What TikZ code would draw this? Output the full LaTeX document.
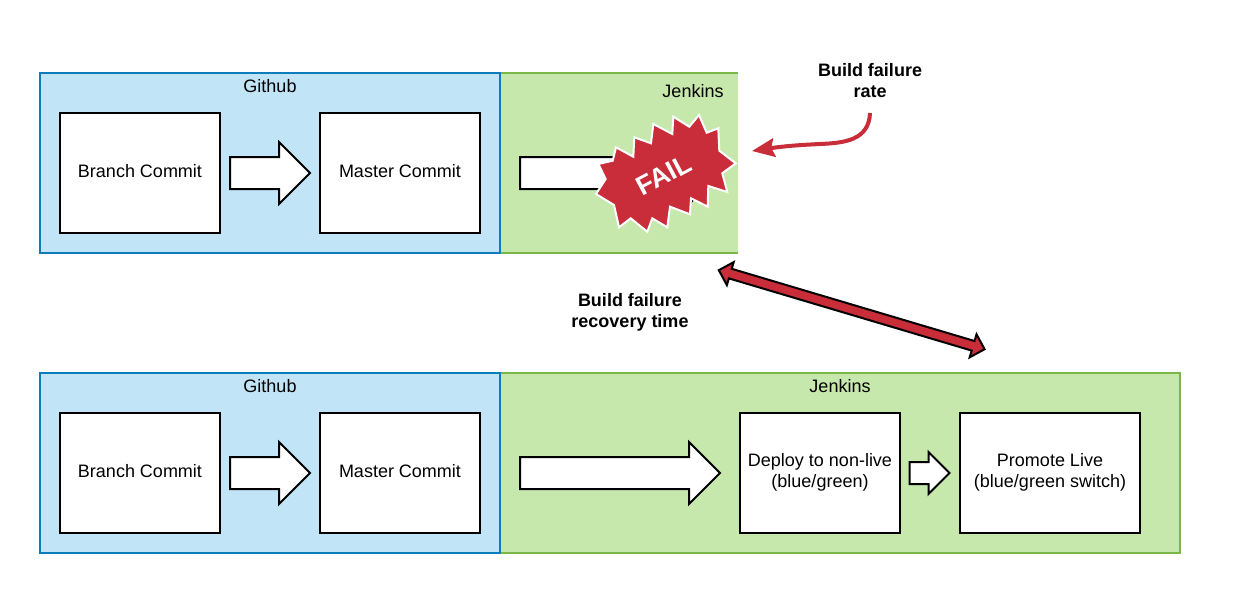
\documentclass[tikz,border=0pt]{standalone}
\usepackage{fontspec}
\setmainfont{Liberation Sans}
\usetikzlibrary{shapes.arrows, arrows.meta}
\definecolor{laneblue}{HTML}{C1E4F7}
\definecolor{laneblueline}{HTML}{0C7CBA}
\definecolor{lanegreen}{HTML}{C7E8AC}
\definecolor{lanegreenline}{HTML}{7AB648}
\definecolor{failred}{HTML}{C92D39}
\newcommand{\liftline}{\rule[-4.4pt]{0pt}{1pt}}
\tikzset{
	lane/.style = {minimum width = #1, minimum height = 135pt, inner sep = 0pt, outer sep = 0pt},
	lanetitle/.style = {inner sep = 0pt, font = \fontsize{13.5}{15.75}\selectfont},
	stagebox/.style = {draw, line width = 1.5pt, fill = white, minimum width = #1, minimum height = 90pt, inner sep = 0pt, outer sep = 0pt, align = center, font = \fontsize{13.5}{15.75}\selectfont},
	commitbox/.style = {stagebox = 120pt, text height = 10pt, text depth = 3.5pt},
	blockarrow/.style = {single arrow, draw, line width = 1.5pt, fill = white, minimum height = #1, minimum width = 45pt, single arrow head extend = 11.25pt, inner xsep = 0pt, inner ysep = 11.25pt, outer sep = 0pt},
	callout/.style = {inner sep = 0pt, align = center, font = \fontsize{13.5}{15.75}\selectfont\bfseries}
}
\begin{document}
\begin{tikzpicture}[x = 0.75pt, y = -0.75pt]
	\useasboundingbox (0,0) rectangle (1238,593);
	% top row
	\node[lane = 178.5pt, fill = lanegreen] (jenkinsA) at (619,163) {};
	\draw[lanegreenline, line width = 1.5pt] (jenkinsA.north west) -- (jenkinsA.north east)
		(jenkinsA.south west) -- (jenkinsA.south east);
	\node[lane = 345pt, fill = laneblue, draw = laneblueline, line width = 1.5pt] (githubA) at (270,163) {};
	\node[lanetitle] (githubtitleA) at (270,86) {Github};
	\node[lanetitle] (jenkinstitleA) at (693,91) {Jenkins};
	\node[commitbox] (branchA) at (140,173) {Branch Commit};
	\node[commitbox] (masterA) at (400,173) {Master Commit};
	\node[blockarrow = 60pt] (arrowA) at (262,173) {};
	\node[blockarrow = 150pt] (arrowB) at (612,173) {};
	\filldraw[fill = failred, draw = white, line width = 1.5pt, line join = miter] (598.3,164) -- (612.7,160.7) -- (616,147.3) -- (633.3,156.7)
		-- (634.3,137.3) -- (651,143.3) -- (653.3,124) -- (672.3,134) -- (673.3,116.7) -- (689.3,126.7)
		-- (699,115) -- (706.7,132.7) -- (718.3,128.3) -- (719.3,150.7) -- (735.7,163.3) -- (722.3,173.3)
		-- (727.3,192) -- (708.3,186) -- (707.7,206.7) -- (691,198.3) -- (690,214.3) -- (670,206.7)
		-- (667.3,227.3) -- (652.3,218.3) -- (647.3,231.7) -- (630.7,218.3) -- (619,227.3) -- (614,205)
		-- (596,194) -- (605.7,179) -- cycle;
	\node[white, inner sep = 0pt, rotate = 28, font = \fontsize{20}{21}\selectfont\bfseries] (fail) at (664,175) {FAIL};
	% failure rate
	\node[callout] (ratelabel) at (870,80.5) {Build failure\\rate};
	\coordinate (ratestart) at (870,113);
	\coordinate (rateend) at (752,151);
	\draw[failred, line width = 3pt, -{Stealth[length = 17pt, width = 14pt, inset = 2.5pt]}] (ratestart) .. controls (869,140) and (845,143) .. (820,144)
		.. controls (800,145) and (785,146) .. (rateend);
	% recovery time
	\node[callout] (recoverylabel) at (630,312.5) {Build failure\\recovery time};
	\node[double arrow, draw, line width = 1.5pt, fill = failred, rotate = -16.56, minimum height = 208pt, minimum width = 16.5pt, double arrow head extend = 5.25pt, inner xsep = 0pt, inner ysep = 3pt, outer sep = 0pt] (recoveryarrow) at (851.7,309.7) {};
	% bottom row
	\node[lane = 510pt, fill = lanegreen, draw = lanegreenline, line width = 1.5pt] (jenkinsB) at (840,463) {};
	\node[lane = 345pt, fill = laneblue, draw = laneblueline, line width = 1.5pt] (githubB) at (270,463) {};
	\node[lanetitle] (githubtitleB) at (270,386) {Github};
	\node[lanetitle] (jenkinstitleB) at (840,386) {Jenkins};
	\node[commitbox] (branchB) at (140,473) {Branch Commit};
	\node[commitbox] (masterB) at (400,473) {Master Commit};
	\node[blockarrow = 60pt] (arrowC) at (262,473) {};
	\node[blockarrow = 150pt] (arrowD) at (612,473) {};
	\node[stagebox = 120pt] (deploy) at (820,473) {Deploy to non-live\\(blue/green)\liftline};
	\node[stagebox = 135pt] (promote) at (1050,473) {Promote Live\\(blue/green switch)\liftline};
	\node[blockarrow = 30pt, minimum width = 30pt, single arrow head extend = 7.5pt, inner ysep = 7.5pt] (arrowE) at (924,473) {};
\end{tikzpicture}
\end{document}
